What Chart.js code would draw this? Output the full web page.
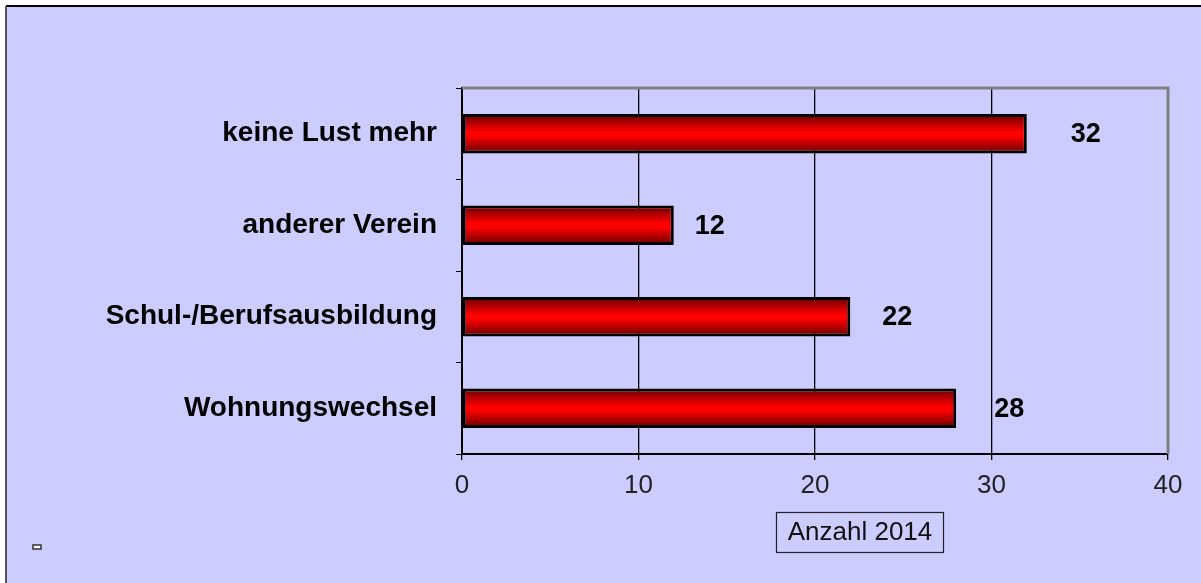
<!DOCTYPE html>
<html>
<head>
<meta charset="utf-8"/>
<script src="https://cdn.jsdelivr.net/npm/chart.js"></script>
<style>
  html, body { margin: 0; padding: 0; background: #ffffff; }
  #wrap { width: 1201px; height: 583px; }
</style>
</head>
<body>
<div id="wrap"><canvas id="myChart" width="1201" height="583"></canvas></div>
<script>
// data
const categories = ["keine Lust mehr", "anderer Verein", "Schul-/Berufsausbildung", "Wohnungswechsel"];
const anzahl2014 = [32, 12, 22, 28];
const xTicks = [0, 10, 20, 30, 40];
const axisTitle = "Anzahl 2014";

// per-bar spacing of the value labels, as in the original
const labelGap = [44, 21, 32, 38];
const BAR_PCT = 0.43;

function barGradient(ctx) {
  const chart = ctx.chart;
  const y = chart.scales.y;
  if (!y || ctx.type !== "data") return "#ff0000";
  const c = y.getPixelForValue(ctx.dataIndex);
  const h = (y.height / categories.length) * BAR_PCT / 2;
  if (!Number.isFinite(c) || !Number.isFinite(h) || h <= 0) return "#ff0000";
  const g = chart.ctx.createLinearGradient(0, c - h, 0, c + h);
  g.addColorStop(0, "#660000");
  g.addColorStop(0.45, "#ff0000");
  g.addColorStop(0.55, "#ff0000");
  g.addColorStop(1, "#660000");
  return g;
}

// background, frame, plot border, value labels, axis title box
const decor = {
  id: "decor",
  beforeDraw(chart) {
    const c = chart.ctx;
    c.save();
    c.fillStyle = "#ffffff";
    c.fillRect(0, 0, chart.width, chart.height);
    c.fillStyle = "#ccccff";
    c.fillRect(6, 6, chart.width - 6, chart.height - 6);
    c.strokeStyle = "#000000";
    c.lineWidth = 2;
    c.beginPath(); c.moveTo(6, 6); c.lineTo(chart.width, 6); c.stroke();
    c.strokeStyle = "#555555";
    c.beginPath(); c.moveTo(6, 6); c.lineTo(6, chart.height); c.stroke();
    c.restore();
  },
  afterDatasetsDraw(chart) {
    const c = chart.ctx;
    const a = chart.chartArea;
    c.save();
    c.strokeStyle = "#808080";
    c.lineWidth = 3;
    c.beginPath();
    c.moveTo(a.left, a.top); c.lineTo(a.right, a.top); c.lineTo(a.right, a.bottom);
    c.stroke();

    // value labels
    const meta = chart.getDatasetMeta(0);
    c.fillStyle = "#000000";
    c.font = "bold 27px 'Liberation Sans', Arial, sans-serif";
    c.textAlign = "left";
    c.textBaseline = "middle";
    meta.data.forEach((bar, i) => {
      c.fillText(String(anzahl2014[i]), bar.x + labelGap[i], bar.y + 1);
    });

    // axis title in a box
    const cx = 860, cy = 532;
    c.font = "26px 'Liberation Sans', Arial, sans-serif";
    c.textAlign = "center";
    c.fillStyle = "#111111";
    c.fillText(axisTitle, cx, cy + 1);
    c.strokeStyle = "#222222";
    c.lineWidth = 1.2;
    c.strokeRect(776.5, 512.5, 167, 40);

    // tiny legend remnant
    c.fillStyle = "#ffffff";
    c.fillRect(33, 545, 8, 4);
    c.strokeStyle = "#333333";
    c.lineWidth = 1.5;
    c.strokeRect(33, 545, 8, 4);
    c.restore();
  }
};

new Chart(document.getElementById("myChart"), {
  type: "bar",
  data: {
    labels: categories,
    datasets: [{
      label: axisTitle,
      data: anzahl2014,
      backgroundColor: barGradient,
      borderColor: "#000000",
      borderWidth: 3,
      borderSkipped: false,
      barPercentage: BAR_PCT,
      categoryPercentage: 1
    }]
  },
  options: {
    indexAxis: "y",
    responsive: false,
    animation: false,
    layout: { padding: { left: 0, right: 33, top: 88, bottom: 0 } },
    plugins: {
      legend: { display: false },
      tooltip: { enabled: false }
    },
    scales: {
      x: {
        min: 0,
        max: 40,
        afterBuildTicks(axis) { axis.ticks = xTicks.map(v => ({ value: v })); },
        afterFit(axis) { axis.height = 129; },
        grid: {
          color: (ctx) => (ctx.tick && ctx.tick.value === 40 ? "#808080" : "#000000"),
          tickColor: "#000000",
          tickLength: 6,
          lineWidth: 1.3
        },
        border: { color: "#000000", width: 2 },
        ticks: {
          color: "#222222",
          padding: 10,
          font: { family: "'Liberation Sans', Arial, sans-serif", size: 26 }
        }
      },
      y: {
        afterFit(axis) { axis.width = 462; },
        grid: {
          drawOnChartArea: false,
          tickColor: "#000000",
          tickLength: 6,
          offset: true
        },
        border: { color: "#000000", width: 2 },
        ticks: {
          color: "#000000",
          padding: 19,
          font: { family: "'Liberation Sans', Arial, sans-serif", size: 28, weight: "bold" }
        }
      }
    }
  },
  plugins: [decor]
});
</script>
</body>
</html>
